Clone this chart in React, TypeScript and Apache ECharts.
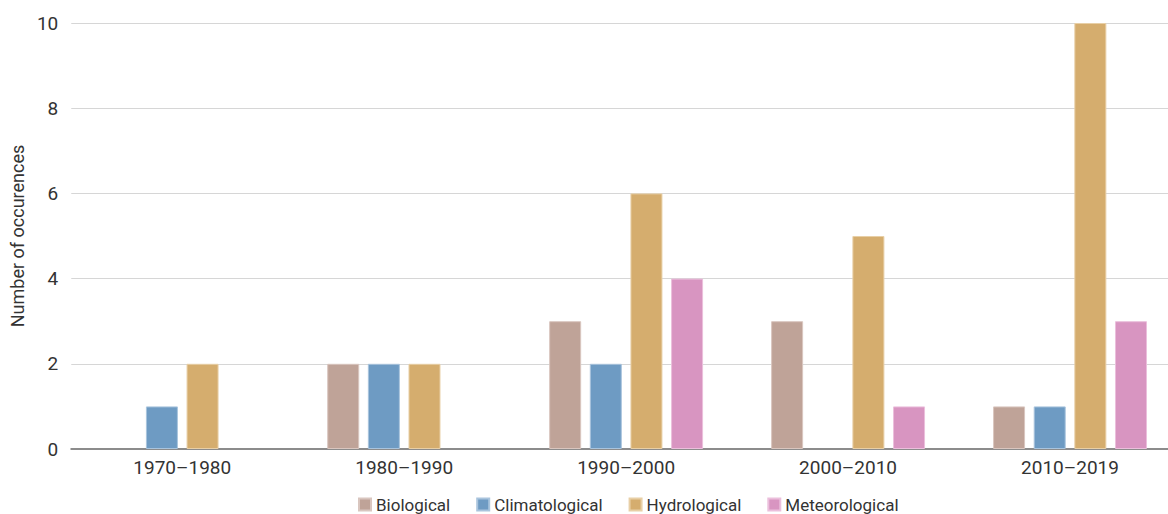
import React, { useEffect, useRef } from "react";
import * as echarts from "echarts";

// Decades on the category axis
const decades = ["1970–1980", "1980–1990", "1990–2000", "2000–2010", "2010–2019"];

// Number of occurrences per hazard type (null = none recorded)
const biological = [null, 2, 3, 3, 1];
const climatological = [1, 2, 2, null, 1];
const hydrological = [2, 2, 6, 5, 10];
const meteorological = [null, null, 4, 1, 3];

const yTicks = { min: 0, max: 10, interval: 2 };

const seriesDefs = [
  { name: "Biological", data: biological, color: "#bfa398", border: "#d9c6bf" },
  { name: "Climatological", data: climatological, color: "#6e9bc3", border: "#a9c4dd" },
  { name: "Hydrological", data: hydrological, color: "#d5ad6e", border: "#e8cfa6" },
  { name: "Meteorological", data: meteorological, color: "#d895c1", border: "#ebbfdc" },
];

const FONT = "Roboto, 'Noto Sans', sans-serif";
const TEXT = "#333333";

export default function App() {
  const ref = useRef<HTMLDivElement>(null);

  useEffect(() => {
    if (!ref.current) return;
    const chart = echarts.init(ref.current, undefined, { renderer: "svg" });
    chart.setOption({
      animation: false,
      backgroundColor: "#ffffff",
      textStyle: { fontFamily: FONT, color: TEXT },
      // the plot runs a little past the visible right edge
      grid: { left: 71, right: 0, top: 23, bottom: 65, containLabel: false },
      legend: {
        left: 358,
        top: 496,
        padding: 0,
        itemGap: 26,
        itemWidth: 12,
        itemHeight: 12,
        icon: "rect",
        selectedMode: false,
        textStyle: { fontFamily: FONT, fontSize: 17, color: TEXT, lineHeight: 17 },
        data: seriesDefs.map((s) => s.name),
      },
      xAxis: {
        type: "category",
        data: decades,
        axisTick: { show: false },
        axisLine: { show: true, lineStyle: { color: "#8c8c8c", width: 2 } },
        axisLabel: { fontFamily: FONT, fontSize: 19, color: TEXT, margin: 9 },
        splitLine: { show: false },
      },
      yAxis: {
        type: "value",
        min: yTicks.min,
        max: yTicks.max,
        interval: yTicks.interval,
        name: "Number of occurences",
        nameLocation: "middle",
        nameGap: 36,
        nameTextStyle: { fontFamily: FONT, fontSize: 18, color: TEXT },
        axisLine: { show: false },
        axisTick: { show: false },
        axisLabel: { fontFamily: FONT, fontSize: 19, color: TEXT, margin: 13 },
        splitLine: { lineStyle: { color: "#d6d6d6", width: 1 } },
      },
      series: seriesDefs.map((s) => ({
        name: s.name,
        type: "bar",
        data: s.data.map((v) => (v === null ? "-" : v)),
        barWidth: 32,
        barGap: "27%",
        itemStyle: { color: s.color, borderColor: s.border, borderWidth: 1 },
      })),
    });
    return () => chart.dispose();
  }, []);

  return (
    <div
      style={{ position: "fixed", left: 0, top: 0, width: 1168, height: 514, overflow: "hidden", background: "#fff" }}
    >
      <div ref={ref} style={{ width: 1181, height: 514 }} />
    </div>
  );
}
